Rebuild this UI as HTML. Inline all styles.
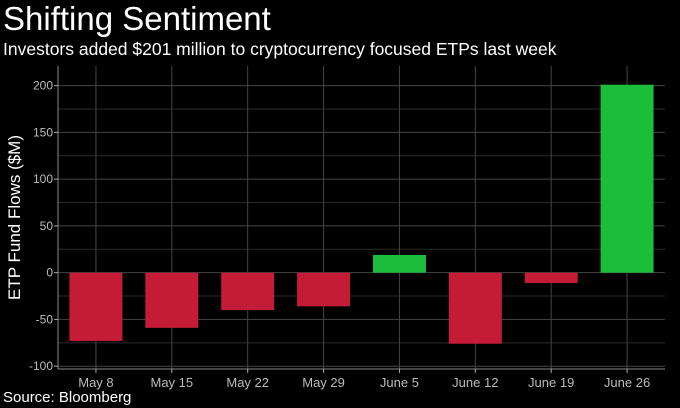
<!DOCTYPE html>
<html><head><meta charset="utf-8"><style>
body{margin:0;background:#000;width:680px;height:408px;overflow:hidden;font-family:"Liberation Sans",Arial,sans-serif;color:#fff}
#title{position:absolute;left:3px;top:1px;font-size:33px;line-height:36px}
#subtitle{position:absolute;left:3px;top:38px;font-size:17.5px;line-height:22px}
#source{position:absolute;left:3px;top:389px;font-size:15px;line-height:18px}
svg{position:absolute;left:0;top:0}
</style></head><body>
<div id="title">Shifting Sentiment</div>
<div id="subtitle">Investors added $201 million to cryptocurrency focused ETPs last week</div>
<div id="source">Source: Bloomberg</div>
<svg id="chart" width="680" height="408"></svg>
<script>
const categories=["May 8","May 15","May 22","May 29","June 5","June 12","June 19","June 26"];
const flows=[-73,-59,-40,-36,19,-76,-11,201];
const yTicks=[-100,-50,0,50,100,150,200];
const svg=document.getElementById('chart');
const NS='http://www.w3.org/2000/svg';
const L=58,R=665,T=66,B=369;
const yMin=-103,yMax=221;
const y=v=>B-(v-yMin)/(yMax-yMin)*(B-T);
const step=(R-L)/categories.length;
const x=i=>L+step*(i+0.5);
function mk(t,a){const e=document.createElementNS(NS,t);for(const k in a)e.setAttribute(k,a[k]);svg.appendChild(e);return e;}
for(let v=-100;v<=200;v+=25){const g=mk('line',{x1:L,x2:R,y1:y(v),y2:y(v),stroke:v%50===0?'#444':'#2a2a2a','stroke-width':1});

}
categories.forEach((c,i)=>{const g=mk('line',{x1:x(i),x2:x(i),y1:T,y2:B,stroke:'#444','stroke-width':1});

});
const ax=mk('line',{x1:L,x2:R,y1:B,y2:B,stroke:'#888'});


const ay=mk('line',{x1:L,x2:L,y1:T,y2:B,stroke:'#888'});


yTicks.forEach(v=>{mk('line',{x1:L-4,x2:L,y1:y(v),y2:y(v),stroke:'#aaa'});
const t=mk('text',{x:L-5,y:y(v)+4,'text-anchor':'end',fill:'#bbb','font-size':12});t.textContent=v;

});
const bw=53;
flows.forEach((v,i)=>{const r=mk('rect',{x:x(i)-bw/2,y:Math.min(y(v),y(0)),width:bw,height:Math.abs(y(v)-y(0)),fill:v>=0?'#1dbd3c':'#c41b36'});


mk('line',{x1:x(i),x2:x(i),y1:B,y2:B+4,stroke:'#aaa'});
const t=mk('text',{x:x(i),y:B+18,'text-anchor':'middle',fill:'#bbb','font-size':13});t.textContent=categories[i];

});
const yt=mk('text',{x:0,y:0,transform:'translate(20,'+((T+B)/2)+') rotate(-90)','text-anchor':'middle',fill:'#fff','font-size':17});
yt.textContent='ETP Fund Flows ($M)';


</script>
</body></html>
